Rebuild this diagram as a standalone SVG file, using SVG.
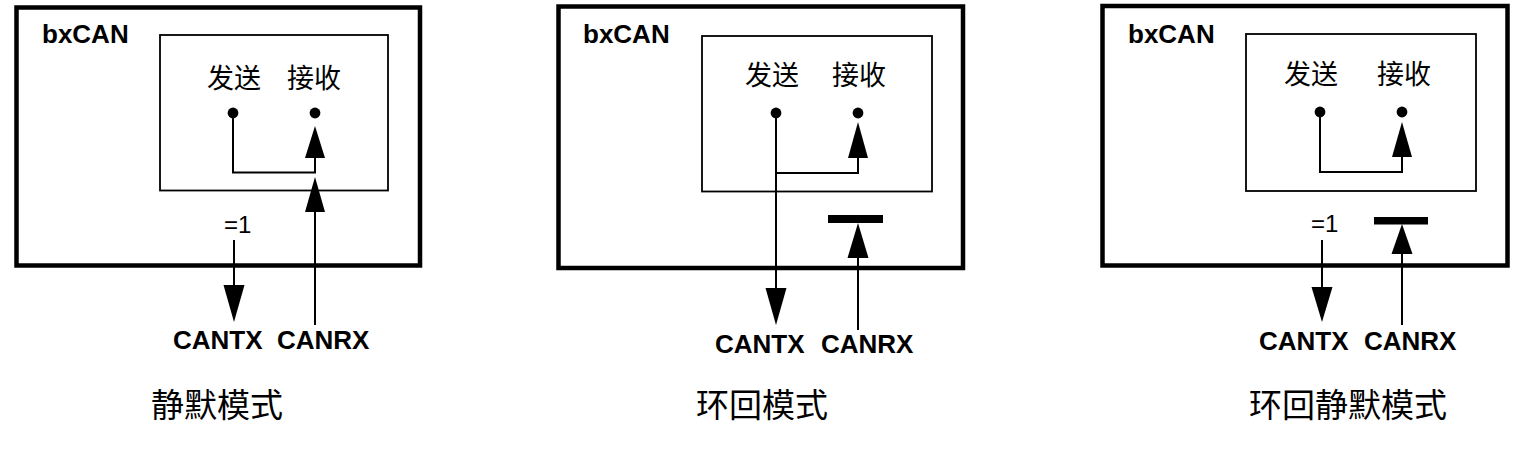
<svg xmlns="http://www.w3.org/2000/svg" width="1520" height="450" viewBox="0 0 1520 450">
<style>
.outer{fill:none;stroke:#000;stroke-width:4.5}
.inner{fill:none;stroke:#000;stroke-width:1.8}
.ln{fill:none;stroke:#000;stroke-width:2}
.ah{fill:#000;stroke:none}
.dot{fill:#000}
.bar{fill:#000}
.bold{font-family:"Liberation Sans",Arial,sans-serif;font-weight:bold;font-size:26px;fill:#000}
.eq{font-family:"Liberation Sans",Arial,sans-serif;font-size:24px;fill:#000}
.cn{font-family:"Noto Sans CJK SC","Noto Sans",sans-serif;font-size:27px;fill:#000}
.cap{font-family:"Noto Sans CJK SC","Noto Sans",sans-serif;font-size:33px;fill:#000}
</style>
<rect width="1520" height="450" fill="#fff"/>

<!-- Panel 1: silent mode -->
<g id="panel1">
  <rect class="outer" x="16.5" y="7.5" width="403.5" height="258"/>
  <text class="bold" x="42" y="43">bxCAN</text>
  <g id="core1">
    <rect class="inner" x="160" y="35" width="228" height="155.5"/>
    <text class="cn" x="207" y="88">发送</text>
    <text class="cn" x="287" y="88">接收</text>
    <circle class="dot" cx="233" cy="113" r="5.4"/>
    <circle class="dot" cx="315" cy="113" r="5.4"/>
  </g>
  <text class="eq" x="224" y="233">=1</text>
  <text class="bold" x="173" y="349">CANTX</text>
  <text class="bold" x="277" y="349">CANRX</text>
  <text class="cap" x="151" y="417">静默模式</text>
</g>

<!-- Panel 2: loopback mode -->
<g id="panel2">
  <rect class="outer" x="558.5" y="6.5" width="404.5" height="261.5"/>
  <text class="bold" x="583" y="43">bxCAN</text>
  <g id="core2">
    <rect class="inner" x="702" y="36" width="230" height="155.5"/>
    <text class="cn" x="745" y="85">发送</text>
    <text class="cn" x="832" y="85">接收</text>
    <circle class="dot" cx="776" cy="113" r="5.4"/>
    <circle class="dot" cx="858" cy="113" r="5.4"/>
  </g>
  <rect class="bar" x="828" y="215" width="55" height="8"/>
  <text class="bold" x="715" y="353">CANTX</text>
  <text class="bold" x="821" y="353">CANRX</text>
  <text class="cap" x="696" y="417">环回模式</text>
</g>

<!-- Panel 3: loopback silent mode -->
<g id="panel3">
  <rect class="outer" x="1102.5" y="6" width="405" height="259.5"/>
  <text class="bold" x="1128" y="43">bxCAN</text>
  <g id="core3">
    <rect class="inner" x="1246" y="34" width="230" height="157"/>
    <text class="cn" x="1284" y="84">发送</text>
    <text class="cn" x="1377" y="84">接收</text>
    <circle class="dot" cx="1320" cy="112" r="5.4"/>
    <circle class="dot" cx="1402" cy="112" r="5.4"/>
  </g>
  <rect class="bar" x="1374" y="217" width="54" height="7.5"/>
  <text class="eq" x="1311" y="232">=1</text>
  <text class="bold" x="1259" y="350">CANTX</text>
  <text class="bold" x="1364" y="350">CANRX</text>
  <text class="cap" x="1249" y="417">环回静默模式</text>
</g>

<g id="connectors">
  <!-- panel 1 -->
  <path class="ln" d="M233,113 V172.5 H315 V150"/>
  <polygon class="ah" points="315,126 305,158 325,158"/>
  <path class="ln" d="M315,325 V205"/>
  <polygon class="ah" points="315,177 305,212 325,212"/>
  <path class="ln" d="M234,240 V290"/>
  <polygon class="ah" points="234,322 223.5,285 244.5,285"/>

  <!-- panel 2 -->
  <path class="ln" d="M776,113 V295"/>
  <polygon class="ah" points="776,325 765.5,288 786.5,288"/>
  <path class="ln" d="M776,173 H858 V150"/>
  <polygon class="ah" points="858,122 848,158 868,158"/>
  <path class="ln" d="M858,330 V250"/>
  <polygon class="ah" points="858,223 847.5,258 868.5,258"/>

  <!-- panel 3 -->
  <path class="ln" d="M1320,112 V172 H1402 V150"/>
  <polygon class="ah" points="1402,122 1392,157 1412,157"/>
  <path class="ln" d="M1322,240 V292"/>
  <polygon class="ah" points="1322,322 1311.5,287 1332.5,287"/>
  <path class="ln" d="M1402,325 V246"/>
  <polygon class="ah" points="1402,224 1391.5,254 1412.5,254"/>
</g>
</svg>
